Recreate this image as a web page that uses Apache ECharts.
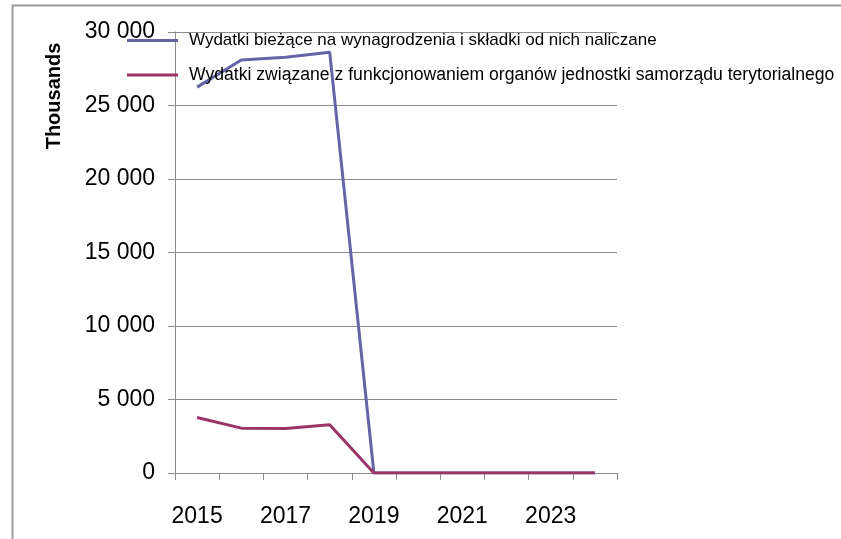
<!DOCTYPE html>
<html>
<head>
<meta charset="utf-8">
<script src="https://cdn.jsdelivr.net/npm/echarts@6/dist/echarts.min.js"></script>
<style>
  html, body { margin: 0; padding: 0; background: #fff; }
  #chart { width: 841px; height: 539px; }
</style>
</head>
<body>
<div id="chart"></div>
<script>
"use strict";

const years = ["2015", "2016", "2017", "2018", "2019", "2020", "2021", "2022", "2023", "2024"];
const wages = [26250, 28100, 28290, 28630, 0, 0, 0, 0, 0, 0];
const organs = [3780, 3050, 3020, 3290, 0, 0, 0, 0, 0, 0];
const seriesNames = [
  "Wydatki bieżące na wynagrodzenia i składki od nich naliczane",
  "Wydatki związane z funkcjonowaniem organów jednostki samorządu terytorialnego",
];
const axisTitle = "Thousands";

const colors = { blue: "#6464a6", red: "#9b3566", grid: "#8c8c8c", text: "#000" };
const font = "'Liberation Sans', Arial, sans-serif";

function legend(name, top, size) {
  return {
    left: 127, top, padding: 0, orient: "vertical", icon: "rect", itemWidth: 51, itemHeight: 3,
    data: [name], selectedMode: false,
    textStyle: { fontFamily: font, fontSize: size, color: colors.text, padding: [0, 0, 0, 6] },
  };
}

const chart = echarts.init(document.getElementById("chart"), null, { renderer: "canvas" });
chart.setOption({
  animation: false,
  backgroundColor: "#fff",
  grid: { left: 175, right: 224, top: 32, bottom: 66, containLabel: false },
  legend: [legend(seriesNames[0], 32, 17), legend(seriesNames[1], 66, 17.6)],
  graphic: [
    { type: "rect", shape: { x: 12.5, y: 5.5, width: 900, height: 700 }, style: { fill: "none", stroke: "#9a9a9a", lineWidth: 2 }, silent: true },
    { type: "text", x: 54, y: 96, rotation: Math.PI / 2, style: { text: axisTitle, font: "bold 20px " + font, fill: colors.text, align: "center", verticalAlign: "middle" } },
  ],
  xAxis: {
    type: "category", data: years, boundaryGap: true,
    axisLine: { lineStyle: { color: colors.grid, width: 1 } },
    axisTick: { show: true, interval: 0, length: 7, lineStyle: { color: colors.grid } },
    axisLabel: { interval: 1, margin: 32, color: colors.text, fontFamily: font, fontSize: 23 },
    splitLine: { show: false },
  },
  yAxis: {
    type: "value", min: 0, max: 30000, interval: 5000,
    axisLine: { show: true, lineStyle: { color: colors.grid, width: 1 } },
    axisTick: { show: true, length: 7, lineStyle: { color: colors.grid } },
    axisLabel: { margin: 20, color: colors.text, fontFamily: font, fontSize: 23, formatter: (v) => String(v).replace(/\B(?=(\d{3})+(?!\d))/g, " ") },
    splitLine: { lineStyle: { color: colors.grid, width: 1 } },
  },
  series: [
    { name: seriesNames[0], type: "line", data: wages, showSymbol: false, lineStyle: { color: colors.blue, width: 3 }, itemStyle: { color: colors.blue } },
    { name: seriesNames[1], type: "line", data: organs, showSymbol: false, lineStyle: { color: colors.red, width: 3 }, itemStyle: { color: colors.red } },
  ],
});
</script>
</body>
</html>
